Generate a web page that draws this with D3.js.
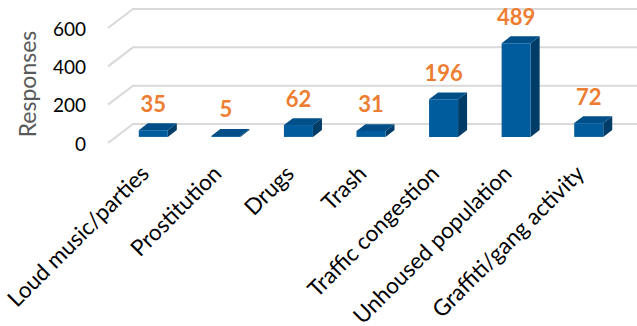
<!DOCTYPE html>
<html>
<head>
<meta charset="utf-8">
<script src="https://cdn.jsdelivr.net/npm/d3@7/dist/d3.min.js"></script>
<style>
  html, body { margin: 0; padding: 0; background: #fff; }
  svg { display: block; font-family: Lato, "Open Sans", sans-serif; }
</style>
</head>
<body>
<svg id="chart" width="637" height="326"></svg>
<script>
// Survey: neighbourhood concerns
const categories = ["Loud music/parties", "Prostitution", "Drugs", "Trash",
  "Traffic congestion", "Unhoused population", "Graffiti/gang activity"];
const responses = [35, 5, 62, 31, 196, 489, 72];
const yTicks = [0, 200, 400, 600];
const yTitle = "Responses";

const svg = d3.select("#chart");

// Oblique 3D projection: depth z in [0,1] shifts points right and up
const DX = 25, DY = 19;
const x = d3.scaleBand().domain(categories).range([109, 617]);
const y = d3.scaleLinear().domain([0, 600]).range([143, 28]);
const zFront = 0.32, zBack = 0.68;
const px = (xv, z) => xv + z * DX;
const py = (v, z) => y(v) - z * DY;

// Wall gridlines
const grid = svg.append("g");
yTicks.forEach(t => {
  grid.append("path")
    .attr("d", `M${px(108, 0)},${py(t, 0)} L${px(108, 1)},${py(t, 1)} L637,${py(t, 1)}`)
    .attr("fill", "none")
    .attr("stroke", "#d9d9d9")
    .attr("stroke-width", 2);
});

// Value axis labels
svg.append("g").selectAll("text").data(yTicks).join("text")
  .attr("x", 86)
  .attr("y", d => py(d, 0))
  .attr("text-anchor", "end")
  .attr("dominant-baseline", "central")
  .attr("font-size", 19)
  .attr("fill", "#000")
  .text(d => d);

svg.append("text")
  .attr("transform", "translate(27,84) rotate(-90)")
  .attr("text-anchor", "middle")
  .attr("dominant-baseline", "central")
  .attr("font-size", 23)
  .attr("fill", "#595959")
  .text(yTitle);

// 3D columns
const bw = x.bandwidth() * 0.4;
const bars = svg.append("g").selectAll("g").data(categories).join("g");
bars.each(function (c, i) {
  const g = d3.select(this);
  const v = responses[i];
  const x0 = x(c) + (x.bandwidth() - bw) / 2;
  const x1 = x0 + bw;
  const F = (xv, val) => [px(xv, zFront), py(val, zFront)];
  const B = (xv, val) => [px(xv, zBack), py(val, zBack)];
  const poly = pts => "M" + pts.map(p => p.join(",")).join("L") + "Z";
  // side face
  g.append("path")
    .attr("d", poly([F(x1, 0), B(x1, 0), B(x1, v), F(x1, v)]))
    .attr("fill", "#003c68");
  // top face
  g.append("path")
    .attr("d", poly([F(x0, v), F(x1, v), B(x1, v), B(x0, v)]))
    .attr("fill", "#004f88");
  // front face
  g.append("path")
    .attr("d", poly([F(x0, 0), F(x1, 0), F(x1, v), F(x0, v)]))
    .attr("fill", "#005c9c");
});

// Value labels
svg.append("g").selectAll("text").data(categories).join("text")
  .attr("x", c => px(x(c) + x.bandwidth() / 2, zFront))
  .attr("y", (c, i) => py(responses[i], zFront) - 18.5)
  .attr("text-anchor", "middle")
  .attr("font-size", 22)
  .attr("font-weight", "bold")
  .attr("fill", "#ed7d31")
  .text((c, i) => responses[i]);

// Category labels
svg.append("g").selectAll("text").data(categories).join("text")
  .attr("transform", c => `translate(${px(x(c) + x.bandwidth() / 2, zFront) - 3},175) rotate(-45)`)
  .attr("text-anchor", "end")
  .attr("font-size", 22.5)
  .attr("fill", "#000")
  .text(c => c);
</script>
</body>
</html>
